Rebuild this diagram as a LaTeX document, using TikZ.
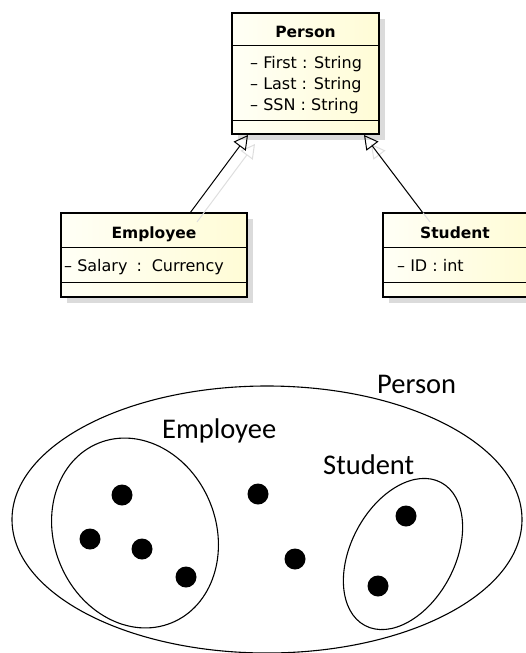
\documentclass[tikz,border=0pt]{standalone}
\usepackage{fontspec}
\setmainfont{DejaVu Sans}
\newfontfamily\umlfont{DejaVu Sans}
\newfontfamily\vennfont{Carlito}
\usetikzlibrary{arrows.meta,shadows}
\definecolor{boxL}{RGB}{255,255,246}
\definecolor{boxR}{RGB}{255,252,214}
\begin{document}
\begin{tikzpicture}[x=1pt,y=-1pt,
  umlbox/.style={draw=black, line width=2.3pt, left color=boxL, right color=boxR,
    drop shadow={shadow xshift=6pt, shadow yshift=-6pt, fill=black!14, opacity=1},
    inner sep=0pt, outer sep=0pt, anchor=north west},
  sepline/.style={line width=1pt},
  umltitle/.style={font=\umlfont\bfseries\fontsize{15.5}{18}\selectfont, anchor=base, inner sep=0pt},
  umlattr/.style={font=\umlfont\fontsize{16}{19}\selectfont, anchor=base west, inner sep=0pt},
  gen/.style={line width=1pt, -{Triangle[open, length=14pt, width=15pt, line width=1pt]}},
  genshadow/.style={gen, draw=black!13},
  venn/.style={line width=1.1pt},
  vlabel/.style={font=\vennfont\fontsize{28.5}{34}\selectfont, anchor=base west, inner sep=0pt},
  dotp/.style={circle, fill=black, minimum size=21pt, inner sep=0pt}]
\useasboundingbox (0,0) rectangle (526,653);

% UML boxes
\node[umlbox, minimum width=147pt, minimum height=121pt] (person) at (232,13) {};
\node[umlbox, minimum width=186pt, minimum height=84pt] (emp) at (61,213) {};
\node[umlbox, minimum width=146pt, minimum height=84pt] (stu) at (383,213) {};

\draw[sepline] ([yshift=-32pt]person.north west) -- ([yshift=-32pt]person.north east);
\draw[sepline] ([yshift=-107pt]person.north west) -- ([yshift=-107pt]person.north east);
\draw[sepline] ([yshift=-34pt]emp.north west) -- ([yshift=-34pt]emp.north east);
\draw[sepline] ([yshift=-69pt]emp.north west) -- ([yshift=-69pt]emp.north east);
\draw[sepline] ([yshift=-34pt]stu.north west) -- ([yshift=-34pt]stu.north east);
\draw[sepline] ([yshift=-69pt]stu.north west) -- ([yshift=-69pt]stu.north east);

% texts
\node[umltitle] (ptitle) at (305.5,37) {Person};
\node[umlattr] (pa1) at (250,68) {– First : String};
\node[umlattr] (pa2) at (250,89) {– Last : String};
\node[umlattr] (pa3) at (250,110) {– SSN : String};
\node[umltitle] (etitle) at (154,238) {Employee};
\node[umlattr] (ea1) at (64,271) {– Salary\hspace{4pt} :\hspace{3pt} Currency};
\node[umltitle] (stitle) at (455,238) {Student};
\node[umlattr] (sa1) at (397,271) {– ID : int};

% generalisation connectors
\coordinate (tipL) at ([xshift=16pt,yshift=-1pt]person.south west);
\coordinate (tipR) at ([xshift=-15pt,yshift=-1pt]person.south east);
\coordinate (startL) at ([xshift=129pt]emp.north west);
\coordinate (startR) at ([xshift=40pt]stu.north west);
\draw[genshadow] ([shift={(7pt,-9pt)}]startL) -- ([shift={(7pt,-9pt)}]tipL);
\draw[genshadow] ([shift={(7pt,-9pt)}]startR) -- ([shift={(7pt,-9pt)}]tipR);
\draw[gen] (startL) -- (tipL);
\draw[gen] (startR) -- (tipR);

% Venn diagram
\draw[venn] (267,519.5) ellipse [x radius=255, y radius=133.5];
\draw[venn] (135,533) ellipse [x radius=81, y radius=97, rotate=22];
\draw[venn] (403,554) ellipse [x radius=52, y radius=81, rotate=-28];

\node[vlabel] (lperson) at (377,393) {Person};
\node[vlabel] (lemp) at (162,438) {Employee};
\node[vlabel] (lstu) at (323,474) {Student};

\node[dotp] (d1) at (122,495) {};
\node[dotp] (d2) at (90,539) {};
\node[dotp] (d3) at (142,549) {};
\node[dotp] (d4) at (186,577) {};
\node[dotp] (d5) at (258,494) {};
\node[dotp] (d6) at (295,559) {};
\node[dotp] (d7) at (406,516) {};
\node[dotp] (d8) at (378,586) {};
\end{tikzpicture}
\end{document}
